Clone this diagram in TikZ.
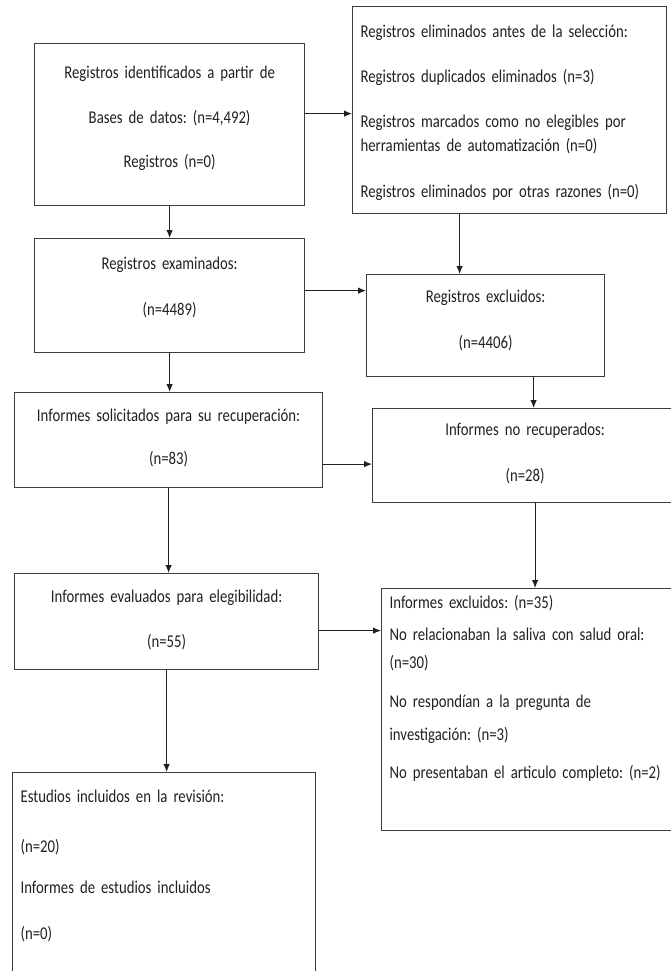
\documentclass[tikz,border=0pt]{standalone}
\usepackage{fontspec}
\setmainfont{Carlito}[FakeStretch=0.82]
\frenchspacing
\usetikzlibrary{arrows.meta}
\definecolor{Frame}{HTML}{3C3C3C}
\definecolor{Ink}{HTML}{202020}
\newcommand\boxfont{\fontsize{18}{24}\selectfont\spaceskip=3.2pt plus 1pt\relax}
\begin{document}
\begin{tikzpicture}[x=1pt,y=-1pt,
 box/.style={draw=Frame,line width=1.2pt,anchor=north west,inner xsep=8pt,inner ysep=0pt,align=center,text=Ink,font=\boxfont},
 leftbox/.style={box,align=left},
 arrow/.style={-{Latex[length=8pt,width=6.5pt]},line width=1pt,draw=Ink}]
 \useasboundingbox (0,0) rectangle (671,971);
 \clip (0,0) rectangle (671,971);
 \node[box,text width=254pt,text height=35pt,text depth=127pt](ident) at (34,43){Registros identificados a partir de\\[21pt]Bases de datos: (n=4,492)\\[20pt]Registros (n=0)};
 \node[leftbox,text width=298pt,text height=31pt,text depth=176pt](elim) at (352,6){Registros eliminados antes de la selección:\\[21pt]Registros duplicados eliminados (n=3)\\[21pt]Registros marcados como no elegibles por\\herramientas de automatización (n=0)\\[22pt]Registros eliminados por otras razones (n=0)};
 \node[box,text width=254pt,text height=31pt,text depth=83pt](exam) at (34,238){Registros examinados:\\[22pt](n=4489)};
 \node[box,text width=222pt,text height=28pt,text depth=74pt](excl) at (366,274){Registros excluidos:\\[22pt](n=4406)};
 \node[box,text width=292pt,text height=29pt,text depth=66pt](solic) at (14,392){Informes solicitados para su recuperación:\\[19pt](n=83)};
 \node[box,text width=289pt,text height=27pt,text depth=67pt](norec) at (372,408){Informes no recuperados:\\[22pt](n=28)};
 \node[box,text width=288pt,text height=29pt,text depth=67pt](eval) at (14,573){Informes evaluados para elegibilidad:\\[21pt](n=55)};
 \node[leftbox,text width=293pt,text height=20pt,text depth=222pt](rexcl) at (381,588){Informes excluidos: (n=35)\\[8pt]No relacionaban la saliva con salud oral:\\[4pt](n=30)\\[15pt]No respondían a la pregunta de\\[9pt]investigación: (n=3)\\[14pt]No presentaban el articulo completo: (n=2)};
 \node[leftbox,text width=287pt,text height=30pt,text depth=198pt](incl) at (12,772){Estudios incluidos en la revisión:\\[26pt](n=20)\\[17pt]Informes de estudios incluidos\\[22pt](n=0)};
 \draw[arrow]([yshift=11pt]ident.east)--([yshift=11pt]ident.east-|elim.west);
 \draw[arrow](ident.south)--(ident.south|-exam.north);
 \draw[arrow]([xshift=-50pt]elim.south)--([xshift=-50pt]elim.south|-excl.north);
 \draw[arrow]([yshift=5pt]exam.east)--([yshift=5pt]exam.east-|excl.west);
 \draw[arrow](exam.south)--(exam.south|-solic.north);
 \draw[arrow]([xshift=48pt]excl.south)--([xshift=48pt]excl.south|-norec.north);
 \draw[arrow]([yshift=-24pt]solic.east)--([yshift=-24pt]solic.east-|norec.west);
 \draw[arrow](solic.south)--(solic.south|-eval.north);
 \draw[arrow]([xshift=10pt]norec.south)--([xshift=10pt]norec.south|-rexcl.north);
 \draw[arrow]([yshift=-9pt]eval.east)--([yshift=-9pt]eval.east-|rexcl.west);
 \draw[arrow](eval.south)--(eval.south|-incl.north);
\end{tikzpicture}
\end{document}
